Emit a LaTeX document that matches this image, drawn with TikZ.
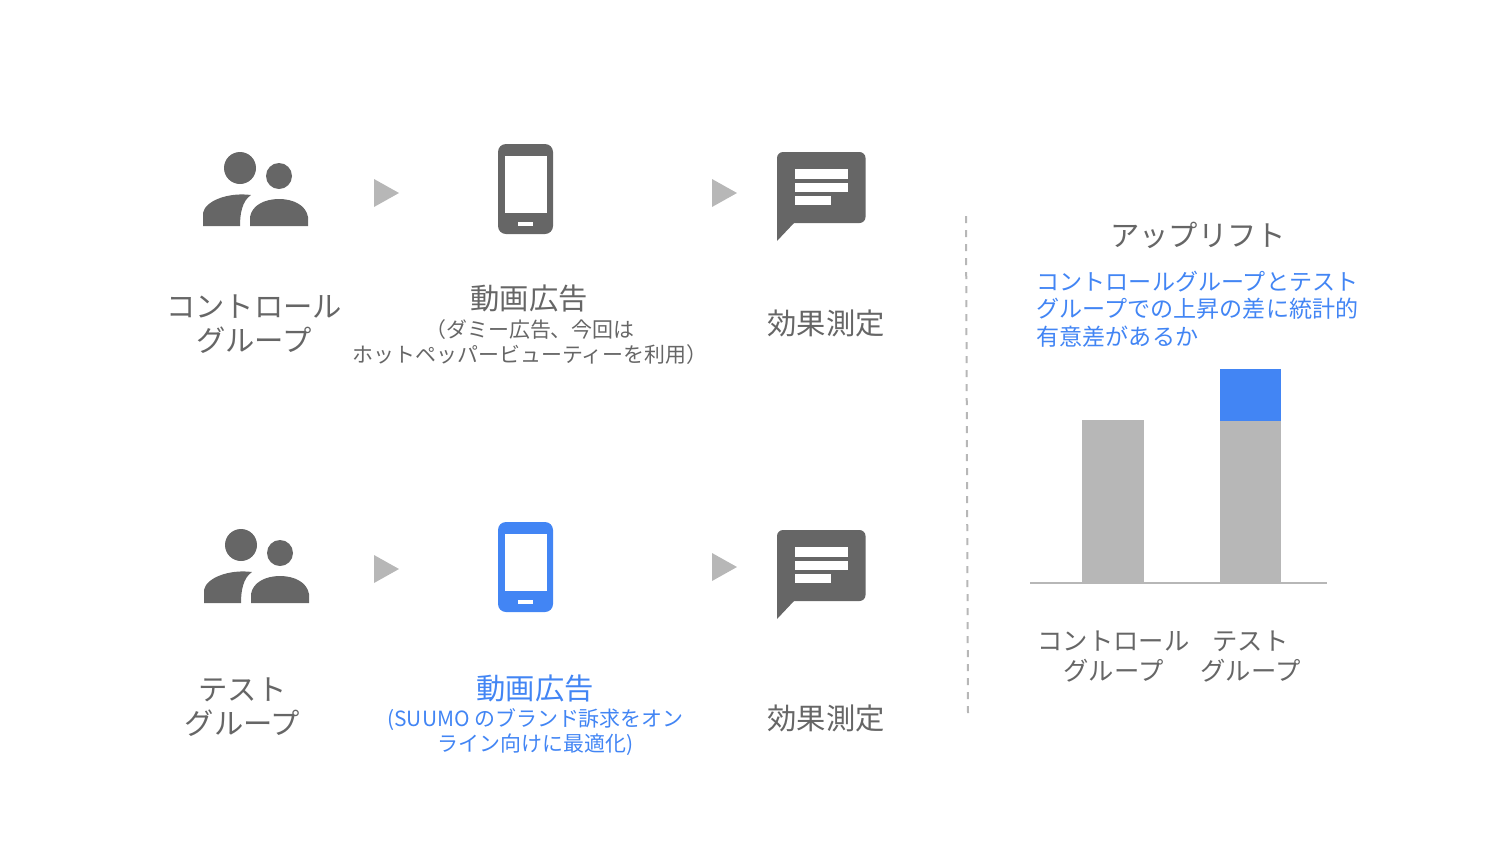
\documentclass[tikz,border=0pt]{standalone}
\usepackage{fontspec}
\setmainfont{Noto Sans CJK JP}
\definecolor{icongray}{HTML}{666666}
\definecolor{softgray}{HTML}{B7B7B7}
\definecolor{liftblue}{HTML}{4285F4}
\tikzset{
    biglabel/.style = {text=icongray,align=center,font=\fontsize{22}{26}\selectfont},
    sublabel/.style = {text=icongray,align=center,font=\fontsize{15.7}{18.75}\selectfont},
    barlabel/.style = {text=icongray,align=center,font=\fontsize{19}{22}\selectfont},
    people/.pic = {
        \fill[icongray] (37,-58) circle (16);
        \fill[icongray] (76,-50) circle (13);
        \fill[icongray] (0,0) -- (0,-13) .. controls (2,-25) and (25,-34) .. (48,-31) .. controls (39,-25) and (37,-12) .. (37,0) -- cycle;
        \fill[icongray] (47,0) -- (47,-9) .. controls (49,-21) and (62,-27) .. (76,-27) .. controls (90,-27) and (103,-21) .. (105,-9) -- (105,0) -- cycle;
    },
    phone/.pic = {
        \fill[pic actions,rounded corners=8*0.75pt] (0,0) rectangle (55,90);
        \fill[white] (7,12) rectangle (49,69);
        \fill[white] (20,78) rectangle (35,82);
    },
    bubble/.pic = {
        \fill[icongray,rounded corners=6*0.75pt] (0,0) rectangle (88.5,71);
        \fill[icongray] (0,60) -- (0,89) -- (17,71) -- (10,60) -- cycle;
        \fill[white] (18,17) rectangle (71,26.5);
        \fill[white] (18,30.5) rectangle (71,39.5);
        \fill[white] (18,44) rectangle (53.5,53);
    },
}
\begin{document}
\begin{tikzpicture}[x=0.75pt,y=-0.75pt]
                \useasboundingbox (0,0) rectangle (1504,847);

                \pic at (203,226) {people};
                \pic at (204,603) {people};
                \pic[fill=icongray] at (498,144) {phone};
                \pic[fill=liftblue] at (498,522) {phone};
                \pic at (777,152) {bubble};
                \pic at (777,530) {bubble};

                \fill[softgray] (374,179) -- (399,193) -- (374,207) -- cycle;
                \fill[softgray] (712,179) -- (737,193) -- (712,207) -- cycle;
                \fill[softgray] (374,555) -- (399,569) -- (374,583) -- cycle;
                \fill[softgray] (712,553) -- (737,567) -- (712,581) -- cycle;

                \node[biglabel] (ctrl) at (254,324) {コントロール\\グループ};
                \node[biglabel] (test) at (242.5,707) {テスト\\グループ};
                \node[biglabel] (adA) at (529,298) {動画広告};
                \node[sublabel] (adAsub) at (530,342) {（ダミー広告、今回は\\ホットペッパービューティーを利用）};
                \node[biglabel,text=liftblue] (adB) at (535,688) {動画広告};
                \node[sublabel,text=liftblue] (adBsub) at (535.5,732.5) {(SUUMO のブランド訴求をオン\\ライン向けに最適化)};
                \node[biglabel] (effectA) at (826,323) {効果測定};
                \node[biglabel] (effectB) at (826,718) {効果測定};

                \draw[softgray,line width=1.5pt,dash pattern=on 5.25pt off 5.25pt] (966,216) -- (968,714);

                \node[biglabel] (uplift) at (1198,235) {アップリフト};
                \node[anchor=west,text=liftblue,align=left,font=\fontsize{17.3}{20.6}\selectfont] (question) at (1032,309) {コントロールグループとテスト\\グループでの上昇の差に統計的\\有意差があるか};

                \fill[softgray] (1082,420) rectangle (1144,582);
                \fill[softgray] (1220,421) rectangle (1281,582);
                \fill[liftblue] (1220,369) rectangle (1281,421);
                \draw[softgray,line width=1.5pt] (1030,582.5) -- (1327,582.5);

                \node[barlabel] (ctrlBar) at (1113.5,656.5) {コントロール\\グループ};
                \node[barlabel] (testBar) at (1250.5,656.5) {テスト\\グループ};
\end{tikzpicture}
\end{document}
